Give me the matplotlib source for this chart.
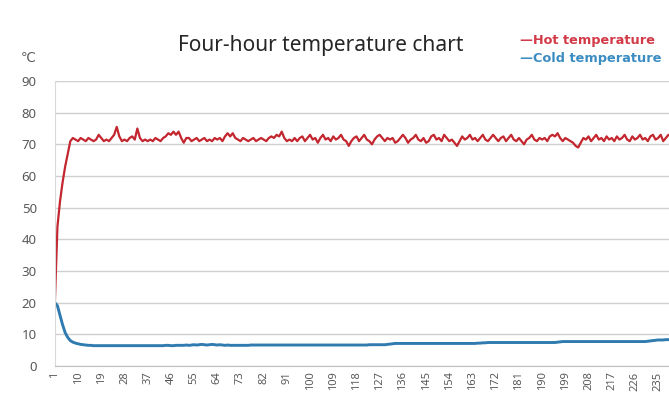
import numpy as np
import matplotlib.pyplot as plt

# hot / cold water temperature over four hours, one reading per step
hot_temp = [
    20, 44, 52, 58, 63, 67, 71, 72, 71.5, 71,
    72, 71.5, 71, 72, 71.5, 71, 71.5, 73, 72, 71,
    71.5, 71, 72, 73, 75.5, 72.5, 71, 71.5, 71, 72,
    72.5, 71.5, 75, 72, 71, 71.5, 71, 71.5, 71, 72,
    71.5, 71, 72, 72.5, 73.5, 73, 74, 73, 74, 72,
    70.5, 72, 72, 71, 71.5, 72, 71, 71.5, 72, 71,
    71.5, 71, 72, 71.5, 72, 71, 72.5, 73.5, 72.5, 73.5,
    72, 71.5, 71, 72, 71.5, 71, 71.5, 72, 71, 71.5,
    72, 71.5, 71, 72, 72.5, 72, 73, 72.5, 74, 72,
    71, 71.5, 71, 72, 71, 72, 72.5, 71, 72, 73,
    71.5, 72, 70.5, 72, 73, 71.5, 72, 71, 72.5, 71.5,
    72, 73, 71.5, 71, 69.5, 71, 72, 72.5, 71, 72,
    73, 71.5, 71, 70, 71.5, 72.5, 73, 72, 71, 72,
    71.5, 72, 70.5, 71, 72, 73, 72, 70.5, 71.5, 72,
    73, 71.5, 71, 72, 70.5, 71, 72.5, 73, 71.5, 72,
    71, 73, 72, 71, 71.5, 70.5, 69.5, 71, 72.5, 71.5,
    72, 73, 71.5, 72, 71, 72, 73, 71.5, 71, 72,
    73, 72, 71, 72, 72.5, 71, 72, 73, 71.5, 71,
    72, 71, 70, 71.5, 72, 73, 71.5, 71, 72, 71.5,
    72, 71, 72.5, 73, 72.5, 73.5, 72, 71, 72, 71.5,
    71, 70.5, 69.5, 69, 70.5, 72, 71.5, 72.5, 71, 72,
    73, 71.5, 72, 71, 72.5, 71.5, 72, 71, 72.5, 71.5,
    72, 73, 71.5, 71, 72.5, 71.5, 72, 73, 71.5, 72,
    71, 72.5, 73, 71.5, 72, 73, 71, 72, 73, 72.5,
]
cold_temp = [
    20, 19, 16, 13, 10.5, 9, 8, 7.5, 7.2, 7,
    6.8, 6.7, 6.6, 6.5, 6.5, 6.4, 6.4, 6.4, 6.4, 6.4,
    6.4, 6.4, 6.4, 6.4, 6.4, 6.4, 6.4, 6.4, 6.4, 6.4,
    6.4, 6.4, 6.4, 6.4, 6.4, 6.4, 6.4, 6.4, 6.4, 6.4,
    6.4, 6.4, 6.4, 6.5, 6.5, 6.4, 6.4, 6.5, 6.5, 6.5,
    6.5, 6.6, 6.5, 6.6, 6.7, 6.6, 6.7, 6.8, 6.7, 6.6,
    6.7, 6.8, 6.7, 6.6, 6.7, 6.6, 6.5, 6.6, 6.5, 6.5,
    6.5, 6.5, 6.5, 6.5, 6.5, 6.5, 6.6, 6.6, 6.6, 6.6,
    6.6, 6.6, 6.6, 6.6, 6.6, 6.6, 6.6, 6.6, 6.6, 6.6,
    6.6, 6.6, 6.6, 6.6, 6.6, 6.6, 6.6, 6.6, 6.6, 6.6,
    6.6, 6.6, 6.6, 6.6, 6.6, 6.6, 6.6, 6.6, 6.6, 6.6,
    6.6, 6.6, 6.6, 6.6, 6.6, 6.6, 6.6, 6.6, 6.6, 6.6,
    6.6, 6.6, 6.7, 6.7, 6.7, 6.7, 6.7, 6.7, 6.7, 6.8,
    6.9, 7.0, 7.1, 7.1, 7.1, 7.1, 7.1, 7.1, 7.1, 7.1,
    7.1, 7.1, 7.1, 7.1, 7.1, 7.1, 7.1, 7.1, 7.1, 7.1,
    7.1, 7.1, 7.1, 7.1, 7.1, 7.1, 7.1, 7.1, 7.1, 7.1,
    7.1, 7.1, 7.1, 7.1, 7.2, 7.2, 7.3, 7.3, 7.4, 7.4,
    7.4, 7.4, 7.4, 7.4, 7.4, 7.4, 7.4, 7.4, 7.4, 7.4,
    7.4, 7.4, 7.4, 7.4, 7.4, 7.4, 7.4, 7.4, 7.4, 7.4,
    7.4, 7.4, 7.4, 7.4, 7.4, 7.5, 7.6, 7.7, 7.7, 7.7,
    7.7, 7.7, 7.7, 7.7, 7.7, 7.7, 7.7, 7.7, 7.7, 7.7,
    7.7, 7.7, 7.7, 7.7, 7.7, 7.7, 7.7, 7.7, 7.7, 7.7,
    7.7, 7.7, 7.7, 7.7, 7.7, 7.7, 7.7, 7.7, 7.7, 7.7,
    7.8, 7.9, 8.0, 8.1, 8.2, 8.2, 8.2, 8.3, 8.3, 8.3,
]
steps = np.arange(1, len(hot_temp) + 1)
x_labels = steps[::9]
y_ticks = [0, 10, 20, 30, 40, 50, 60, 70, 80, 90]

plt.rcParams['font.family'] = ['Noto Sans', 'DejaVu Sans']

fig = plt.figure(figsize=(6.69, 4.03), dpi=100)
ax = fig.add_axes([0.082, 0.092, 0.921, 0.707])

ax.plot(steps, hot_temp, color="#c3262e", lw=1.6)
ax.plot(steps, cold_temp, color="#2f7bb0", lw=2.1)

ax.set_xlim(1, 240)
ax.set_ylim(0, 90)
ax.set_yticks(y_ticks)
ax.set_xticks(x_labels)
ax.set_xticklabels([str(v) for v in x_labels], rotation=90, fontsize=8, color="#595959")
ax.tick_params(axis="y", length=0, pad=13, labelsize=9.5, labelcolor="#595959")
ax.tick_params(axis="x", length=0, pad=4)

ax.grid(axis="y", color="#cfcfcf", lw=1.0)
ax.set_axisbelow(True)
for side in ("top", "right"):
    ax.spines[side].set_visible(False)
ax.spines["left"].set_color("#d9d9d9")
ax.spines["bottom"].set_color("#bfbfbf")

fig.text(0.48, 0.888, "Four-hour temperature chart", ha="center", va="center",
         fontsize=15, color="#262626")
fig.text(0.042, 0.855, "℃", ha="center", va="center", fontsize=9.5, color="#595959",
         family=["DejaVu Sans"])
# legend drawn as coloured text lines in the top-right corner
fig.text(0.778, 0.900, "—Hot temperature", ha="left", va="center", fontsize=9.3,
         fontweight="bold", color="#d23a48", family=["DejaVu Sans"])
fig.text(0.778, 0.855, "—Cold temperature", ha="left", va="center", fontsize=9.3,
         fontweight="bold", color="#3a8cc2", family=["DejaVu Sans"])

fig.savefig("out.png", dpi=100)
